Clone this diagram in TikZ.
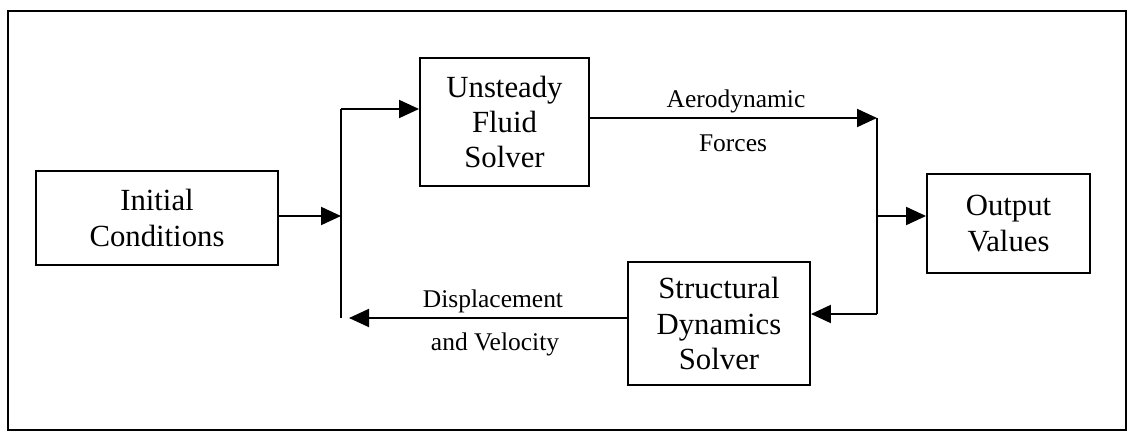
\documentclass[tikz,border=0pt]{standalone}
\usepackage{fontspec}
\setmainfont{Liberation Serif}
\usetikzlibrary{arrows.meta}
\tikzset{
  blk/.style={draw, line width=1.1pt, align=center, font=\fontsize{17.5}{20}\selectfont, inner sep=2pt},
  lbl/.style={font=\fontsize{14.5}{17}\selectfont, anchor=base, inner sep=0pt},
  wire/.style={line width=1.1pt},
  arr/.style={line width=1.1pt, -{Triangle[length=0.4cm,width=0.36cm]}},
}
\begin{document}
\begin{tikzpicture}
\useasboundingbox (0,0) rectangle (22.66,-8.64);
\draw[line width=1.1pt] (0.16,-0.22) rectangle (22.52,-8.6);

\node[blk, minimum width=4.84cm, minimum height=1.88cm] (init) at (3.14,-4.36) {Initial\\Conditions};
\node[blk, minimum width=3.38cm, minimum height=2.56cm] (uf) at (10.09,-2.44) {Unsteady\\Fluid\\Solver};
\node[blk, minimum width=3.26cm, minimum height=1.98cm] (out) at (20.17,-4.47) {Output\\Values};
\node[blk, minimum width=3.64cm, minimum height=2.46cm] (sd) at (14.38,-6.47) {Structural\\Dynamics\\Solver};

\coordinate (jLt) at (6.82,-2.18);
\coordinate (jLb) at (6.82,-6.36);
\coordinate (jRt) at (17.54,-2.36);
\coordinate (jRm) at (17.54,-4.32);
\coordinate (jRb) at (17.54,-6.28);
\coordinate (dend) at (6.98,-6.36);

\draw[wire] (jLt) -- (jLb);
\draw[arr] (init.east |- 0,-4.32) -- (jLt |- 0,-4.32);
\draw[arr] (jLt) -- (jLt -| uf.west);
\draw[arr] (uf.east |- jRt) -- (jRt);
\draw[wire] (jRt) -- (jRb);
\draw[arr] (jRm) -- (jRm -| out.west);
\draw[arr] (jRb) -- (jRb -| sd.east);
\draw[arr] (sd.west |- dend) -- (dend);

\node[lbl] (aero) at (14.72,-2.16) {Aerodynamic};
\node[lbl] (forces) at (14.66,-3.04) {Forces};
\node[lbl] (disp) at (9.86,-6.16) {Displacement};
\node[lbl] (vel) at (9.9,-7.0) {and Velocity};
\end{tikzpicture}
\end{document}
